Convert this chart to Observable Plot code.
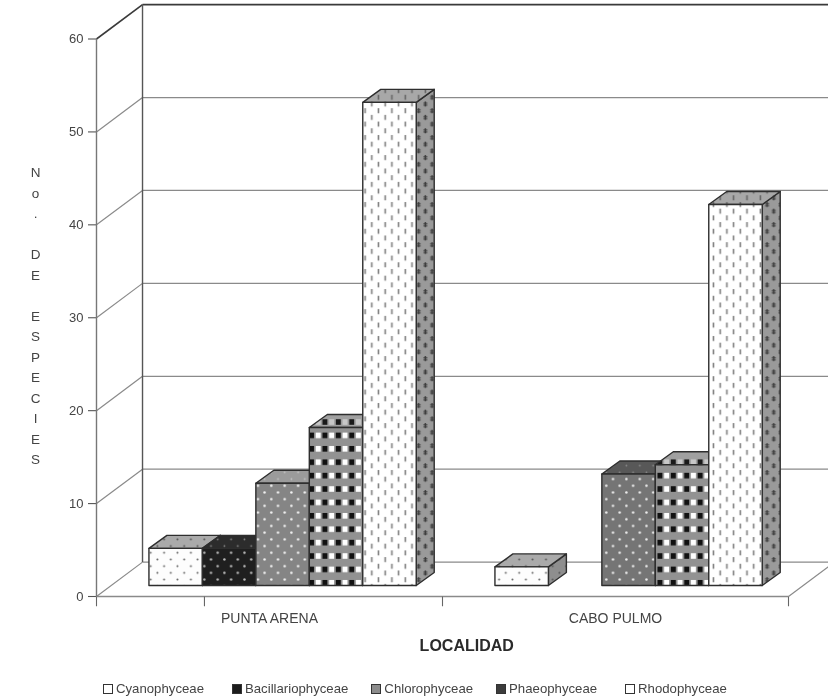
<!DOCTYPE html>
<html>
<head>
<meta charset="utf-8">
<script src="https://cdn.jsdelivr.net/npm/d3@7"></script>
<script src="https://cdn.jsdelivr.net/npm/@observablehq/plot@0.6"></script>
<style>
  html, body { margin: 0; padding: 0; background: #fff; width: 828px; height: 698px; overflow: hidden; }
  #chart svg { display: block; filter: blur(0.4px); }
  #legend { display: flex; padding: 13px 0 0 103px; font: 13.2px "Liberation Sans", Arial, sans-serif; color: #444; filter: blur(0.3px); }
  #legend .item { display: flex; align-items: center; gap: 3px; white-space: nowrap; margin-right: 23px; }
  #legend .item:nth-child(1), #legend .item:nth-child(4) { margin-right: 28px; }
  #legend i { display: inline-block; width: 8px; height: 8px; border: 1.5px solid #333; }
</style>
</head>
<body>
<div id="chart"></div>
<div id="legend"></div>
<script>
// ---- data ----
const localities = ["PUNTA ARENA", "CABO PULMO"];
const families = ["Cyanophyceae", "Bacillariophyceae", "Chlorophyceae", "Phaeophyceae", "Rhodophyceae"];
const cyanophyceae = [4, 2];
const bacillariophyceae = [4, 0];
const chlorophyceae = [11, 12];
const phaeophyceae = [17, 13];
const rhodophyceae = [52, 41];
const yTicks = [0, 10, 20, 30, 40, 50, 60];
const xTickPositions = [0, 0.312, 1, 2];
const yTitle = "N\no\n.\n\nD\nE\n\nE\nS\nP\nE\nC\nI\nE\nS";
const series = [cyanophyceae, bacillariophyceae, chlorophyceae, phaeophyceae, rhodophyceae];
const swatches = ["#fff", "#1c1c1c", "#8c8c8c", "#3c3c3c", "#fff"];

// ---- oblique projection, expressed in scale units ----
const wallDX = 0.133, wallDY = 3.7;         // depth of the chart box
const barDX = 0.052, barDY = 1.4;           // depth of a bar
const barBase = 1.13;                       // front-bottom of bars above the front floor line
const barStart = 0.153, barStep = 0.1545;   // bar layout inside a locality slot
const xMax = (828 - 96) / 346;

function defs() {
  const cell = 13.4;
  const p = (id, body, w = cell, h = cell) =>
    `<pattern id="${id}" patternUnits="userSpaceOnUse" width="${w}" height="${h}">${body}</pattern>`;
  const base = (c) => `<rect width="${cell}" height="${cell}" fill="${c}"/>`;
  const dots = (bg, fg, r = 1) => base(bg) +
    `<circle cx="3.3" cy="3.3" r="${r}" fill="${fg}"/><circle cx="10" cy="10" r="${r}" fill="${fg}"/>`;
  const dashes = (bg, fg, sw = 1.6) => base(bg) +
    `<rect x="2.5" y="1" width="${sw}" height="5" fill="${fg}"/><rect x="9.2" y="7.7" width="${sw}" height="5" fill="${fg}"/>`;
  const crosses = (bg, fg) => dashes(bg, fg, 1.5) +
    `<rect x="1.3" y="2.2" width="4" height="1" fill="${fg}"/><rect x="1.3" y="4.2" width="4" height="1" fill="${fg}"/>` +
    `<rect x="8" y="8.9" width="4" height="1" fill="${fg}"/><rect x="8" y="10.9" width="4" height="1" fill="${fg}"/>`;
  const checks = (bg, dark, light) => base(bg) +
    `<rect x="0.8" y="3.8" width="5" height="5.6" fill="${dark}"/>` +
    (light ? `<rect x="7.5" y="3.8" width="5" height="5.6" fill="${light}"/>` : "");
  const html =
    p("cyano-front", dots("#fdfdfd", "#666")) +
    p("cyano-top", dots("#aaa", "#555")) +
    p("cyano-side", dots("#8e8e8e", "#555")) +
    p("baci-front", dots("#1f1f1f", "#bbb", 1.2)) +
    p("baci-top", dots("#2c2c2c", "#888", 0.9)) +
    p("baci-side", dots("#2c2c2c", "#888", 0.9)) +
    p("chloro-front", dots("#858585", "#f4f4f4", 1.25)) +
    p("chloro-top", dots("#9b9b9b", "#c4c4c4", 0.9)) +
    p("chloro-front-dark", dots("#757575", "#eee", 1.25)) +
    p("chloro-top-dark", dots("#585858", "#888", 0.9)) +
    p("chloro-side", dots("#777", "#aaa", 0.9)) +
    p("phaeo-front", checks("#929292", "#111", "#fff")) +
    p("phaeo-top", checks("#a0a0a0", "#1a1a1a", "#c8c8c8")) +
    p("phaeo-side", checks("#777", "#222")) +
    p("rhodo-front", dashes("#fff", "#808080")) +
    p("rhodo-top", dashes("#a8a8a8", "#666")) +
    p("rhodo-side", crosses("#9a9a9a", "#3c3c3c"));
  return d3.create("svg:defs").html(html).node();
}

const keys = ["cyano", "baci", "chloro", "phaeo", "rhodo"];
const barMarks = [];
localities.forEach((loc, c) => {
  series.forEach((vals, f) => {
    const v = vals[c];
    if (!v) return;
    const x0 = c + barStart + f * barStep, x1 = x0 + barStep;
    const y0 = barBase, y1 = barBase + v;
    const k = keys[f];
    const dark = k === "chloro" && c === 1 ? "-dark" : "";
    const faceStyle = {stroke: "#2e2e2e", strokeWidth: 1.4, strokeLinejoin: "round"};
    barMarks.push(
      // side face
      Plot.areaY([0, 1], {
        x: (t) => x1 + t * barDX,
        y1: (t) => y0 + t * barDY,
        y2: (t) => y1 + t * barDY,
        fill: `url(#${k}-side)`, ...faceStyle
      }),
      // top face
      Plot.areaX([0, 1], {
        y: (t) => y1 + t * barDY,
        x1: (t) => x0 + t * barDX,
        x2: (t) => x1 + t * barDX,
        fill: `url(#${k}-top${dark})`, ...faceStyle
      }),
      // front face
      Plot.rect([v], {
        x1: () => x0, x2: () => x1, y1: () => y0, y2: () => y1,
        fill: `url(#${k}-front${dark})`, ...faceStyle
      })
    );
  });
});

const gridColor = "#8a8a8a";
const plot = Plot.plot({
  width: 828,
  height: 668,
  marginLeft: 96,
  marginRight: 0,
  marginTop: 0,
  marginBottom: 0,
  style: {background: "#fff", fontFamily: "'Liberation Sans', Arial, sans-serif", color: "#444"},
  x: {domain: [0, xMax], range: [96, 828], axis: null},
  y: {domain: [0, 60], range: [596, 38.5], axis: null},
  marks: [
    defs,
    // back wall grid
    Plot.link(yTicks.slice(0, -1), {
      x1: () => wallDX, x2: () => xMax, y1: (d) => d + wallDY, y2: (d) => d + wallDY,
      stroke: gridColor, strokeWidth: 1.3
    }),
    // back wall top edge
    Plot.link([60], {
      x1: () => wallDX, x2: () => xMax, y1: (d) => d + wallDY, y2: (d) => d + wallDY,
      stroke: "#3a3a3a", strokeWidth: 1.6
    }),
    // side wall diagonals
    Plot.link(yTicks, {
      x1: () => 0, x2: () => wallDX, y1: (d) => d, y2: (d) => d + wallDY,
      stroke: (d) => d === 60 ? "#3a3a3a" : gridColor,
      strokeWidth: (d) => d === 60 ? 1.6 : 1.2
    }),
    // back wall left edge
    Plot.link([0], {
      x1: () => wallDX, x2: () => wallDX, y1: () => wallDY, y2: () => 60 + wallDY,
      stroke: "#555", strokeWidth: 1.4
    }),
    // floor front edge and right diagonal
    Plot.link([0], {
      x1: () => 0, x2: () => 2, y1: () => 0, y2: () => 0,
      stroke: gridColor, strokeWidth: 1.5
    }),
    Plot.link([0], {
      x1: () => 2, x2: () => 2 + wallDX, y1: () => 0, y2: () => wallDY,
      stroke: gridColor, strokeWidth: 1.2
    }),
    // x ticks
    Plot.link(xTickPositions, {
      x1: (d) => d, x2: (d) => d, y1: () => 0, y2: () => -1.05,
      stroke: "#666", strokeWidth: 1.1
    }),
    ...barMarks,
    // y axis
    Plot.axisY(yTicks, {
      anchor: "left", tickSize: 8, tickPadding: 5, fontSize: 13, stroke: "#555",
      strokeWidth: 1.1, label: null, color: "#444"
    }),
    Plot.link([0], {
      x1: () => 0, x2: () => 0, y1: () => 0, y2: () => 60,
      stroke: "#777", strokeWidth: 1.4
    }),
    // locality labels
    Plot.text(localities, {
      x: (d, i) => i + 0.5, y: () => -2.35, text: (d) => d,
      fontSize: 14, fill: "#444"
    }),
    Plot.text(["LOCALIDAD"], {
      x: () => 1.07, y: () => -5.3, text: (d) => d,
      fontSize: 16, fontWeight: "bold", fill: "#2a2a2a"
    }),
    // y title
    Plot.text([yTitle], {
      x: () => -0.176, y: () => 30.4, text: (d) => d, textAnchor: "middle", lineAnchor: "middle",
      fontSize: 13.5, lineHeight: 20.5 / 13.5, fill: "#444"
    })
  ]
});
document.getElementById("chart").append(plot);

const legend = d3.select("#legend");
families.forEach((name, i) => {
  const item = legend.append("div").attr("class", "item");
  item.append("i").style("background", swatches[i]);
  item.append("span").text(name);
});
</script>
</body>
</html>
